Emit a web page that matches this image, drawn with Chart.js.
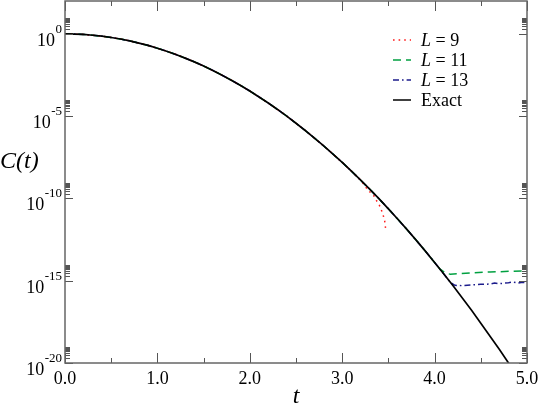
<!DOCTYPE html>
<html>
<head>
<meta charset="utf-8">
<script src="https://cdn.jsdelivr.net/npm/chart.js@4/dist/chart.umd.min.js"></script>
<style>
  html, body { margin: 0; padding: 0; background: #fff; }
  #chart { display: block; }
</style>
</head>
<body>
<canvas id="chart" width="538" height="405"></canvas>
<script>
// values, C(t) stored as log10
var timeExact = [0, 0.1, 0.2, 0.3, 0.4, 0.5, 0.6, 0.7, 0.8, 0.9, 1.0, 1.1, 1.2, 1.3, 1.4, 1.5, 1.6, 1.7, 1.8, 1.9,
                 2.0, 2.1, 2.2, 2.3, 2.4, 2.5, 2.6, 2.7, 2.8, 2.9, 3.0, 3.1, 3.2, 3.3, 3.4, 3.5, 3.6, 3.7, 3.8, 3.9,
                 4.0, 4.1, 4.2, 4.3, 4.4, 4.5, 4.6, 4.7, 4.8, 4.9];
var logExact = [0, -0.01, -0.03, -0.08, -0.14, -0.22, -0.31, -0.42, -0.56, -0.7, -0.87, -1.05, -1.25, -1.47, -1.7, -1.95, -2.22, -2.51, -2.81, -3.13,
                -3.47, -3.83, -4.2, -4.59, -5.0, -5.43, -5.87, -6.33, -6.81, -7.3, -7.81, -8.34, -8.89, -9.45, -10.03, -10.63, -11.25, -11.88, -12.53, -13.2,
                -13.89, -14.59, -15.31, -16.05, -16.8, -17.58, -18.37, -19.17, -20.0, -20.84];

// each L curve sits on the exact one up to where its own tail starts
var timeL9 = [3.28, 3.34, 3.37, 3.4, 3.44, 3.46, 3.47];
var logL9 = [-9.5, -9.82, -10.12, -10.38, -10.93, -11.38, -11.84];

var timeL11 = [4.06, 4.12, 4.17, 4.25, 4.4, 4.6, 4.8, 5.0];
var logL11 = [-14.3, -14.55, -14.6, -14.58, -14.52, -14.47, -14.43, -14.4];

var timeL13 = [4.17, 4.22, 4.3, 4.4, 4.5, 4.6, 4.65, 4.7, 4.8, 4.85, 4.9, 4.95, 5.0];
var logL13 = [-15.1, -15.28, -15.3, -15.26, -15.22, -15.2, -15.14, -15.18, -15.12, -15.08, -15.14, -15.1, -15.12];

var xMajorTicks = [0, 1, 2, 3, 4, 5];
var xTickLabels = ['0.0', '1.0', '2.0', '3.0', '4.0', '5.0'];
var yMajorExps = [-20, -15, -10, -5, 0];

var SERIF = '"Liberation Serif", "Times New Roman", Tinos, serif';

function toPoints(ts, logs) {
    return ts.map(function(t, i) { return {x: t, y: Math.pow(10, logs[i])}; });
}

// exact points before the tail, then the tail itself
function withTail(ts, logs) {
    var pts = [];
    for (var i = 0; i < timeExact.length && timeExact[i] < ts[0]; i++) {
        pts.push({x: timeExact[i], y: Math.pow(10, logExact[i])});
    }
    return pts.concat(toPoints(ts, logs));
}

var seriesInfo = [
    {name: '9', color: '#ff1a1a', dash: [1.6, 4], width: 1.5, data: withTail(timeL9, logL9)},
    {name: '11', color: '#00a040', dash: [8, 5], width: 1.5, data: withTail(timeL11, logL11)},
    {name: '13', color: '#1c1c8c', dash: [6, 3, 1.6, 3], width: 1.5, data: withTail(timeL13, logL13)},
    {name: 'Exact', color: '#000', dash: [], width: 1.7, data: toPoints(timeExact, logExact)}
];

/*
  frame, inward ticks, labels, titles and legend, drawn by hand
*/
var decorPlugin = {
    id: 'decor',
    afterDatasetsDraw: function(chart) {
        var ctx = chart.ctx;
        var area = chart.chartArea;
        var xs = chart.scales.x, ys = chart.scales.y;
        ctx.save();

        // x ticks, bottom and top
        ctx.strokeStyle = '#555';
        ctx.lineWidth = 1;
        for (var t = 0; t <= 5.001; t += 0.5) {
            var px = Math.round(xs.getPixelForValue(t)) + 0.5;
            var len = (Math.abs(t - Math.round(t)) < 0.01) ? 10 : 5;
            ctx.beginPath();
            ctx.moveTo(px, area.bottom); ctx.lineTo(px, area.bottom - len);
            ctx.moveTo(px, area.top); ctx.lineTo(px, area.top + len);
            ctx.stroke();
        }

        // y ticks, left and right (majors plus the 2..9 cluster above each)
        yMajorExps.forEach(function(e) {
            var py = Math.round(ys.getPixelForValue(Math.pow(10, e))) + 0.5;
            ctx.beginPath();
            ctx.moveTo(area.left, py); ctx.lineTo(area.left + 8, py);
            ctx.moveTo(area.right, py); ctx.lineTo(area.right - 8, py);
            ctx.stroke();
            for (var m = 2; m <= 9; m++) {
                var my = Math.round(ys.getPixelForValue(m * Math.pow(10, e))) + 0.5;
                ctx.beginPath();
                ctx.moveTo(area.left, my); ctx.lineTo(area.left + 5, my);
                ctx.moveTo(area.right, my); ctx.lineTo(area.right - 5, my);
                ctx.stroke();
            }
        });

        // frame
        ctx.strokeStyle = '#666';
        ctx.lineWidth = 1.5;
        ctx.strokeRect(area.left, area.top, area.right - area.left, area.bottom - area.top);

        // x tick labels
        ctx.fillStyle = '#000';
        ctx.font = '18px ' + SERIF;
        ctx.textAlign = 'center';
        ctx.textBaseline = 'alphabetic';
        xMajorTicks.forEach(function(v, i) {
            ctx.fillText(xTickLabels[i], xs.getPixelForValue(v), 384);
        });

        // y tick labels as 10^e
        yMajorExps.forEach(function(e) {
            var py = ys.getPixelForValue(Math.pow(10, e));
            var sup = e === 0 ? '0' : '-' + Math.abs(e);
            ctx.font = '13px ' + SERIF;
            var supW = ctx.measureText(sup).width;
            ctx.textAlign = 'left';
            ctx.fillText(sup, 62 - supW, py - 1);
            ctx.font = '18px ' + SERIF;
            ctx.textAlign = 'right';
            ctx.fillText('10', 62 - supW - 0.5, py + 12);
        });

        // axis titles
        ctx.font = 'italic 24px ' + SERIF;
        ctx.textAlign = 'left';
        ctx.fillText('C(t)', 0, 168);
        ctx.textAlign = 'center';
        ctx.fillText('t', (area.left + area.right) / 2, 403);

        // legend
        seriesInfo.forEach(function(s, i) {
            var ly = 40 + i * 20;
            ctx.strokeStyle = s.color;
            ctx.lineWidth = 1.5;
            ctx.setLineDash(s.dash);
            ctx.beginPath();
            ctx.moveTo(393, ly); ctx.lineTo(411, ly);
            ctx.stroke();
            ctx.setLineDash([]);
            ctx.textAlign = 'left';
            ctx.fillStyle = '#000';
            if (s.name === 'Exact') {
                ctx.font = '18px ' + SERIF;
                ctx.fillText('Exact', 421, ly + 6);
            } else {
                ctx.font = 'italic 18px ' + SERIF;
                ctx.fillText('L', 421, ly + 6);
                var w = ctx.measureText('L').width;
                ctx.font = '18px ' + SERIF;
                ctx.fillText(' = ' + s.name, 421 + w, ly + 6);
            }
        });
        ctx.restore();
    }
};

function drawChart() {
    var datasets = seriesInfo.map(function(s) {
        return {
            label: s.name,
            data: s.data,
            borderColor: s.color,
            borderWidth: s.width,
            borderDash: s.dash,
            pointRadius: 0,
            fill: false,
            tension: 0,
            // exact curve goes on top, the L curves only show where they leave it
            order: s.name === 'Exact' ? 0 : 1
        };
    });

    new Chart(document.getElementById('chart'), {
        type: 'line',
        data: {datasets: datasets},
        options: {
            responsive: false,
            animation: false,
            devicePixelRatio: 1,
            layout: {padding: {left: 65, right: 11, top: 1, bottom: 42}},
            plugins: {legend: {display: false}, tooltip: {enabled: false}},
            scales: {
                x: {type: 'linear', min: 0, max: 5, display: false},
                y: {type: 'logarithmic', min: 1e-20, max: 1e2, display: false}
            }
        },
        plugins: [decorPlugin]
    });
}

Promise.all([
    document.fonts.load('18px "Liberation Serif"'),
    document.fonts.load('italic 18px "Liberation Serif"')
]).then(drawChart, drawChart);
</script>
</body>
</html>
